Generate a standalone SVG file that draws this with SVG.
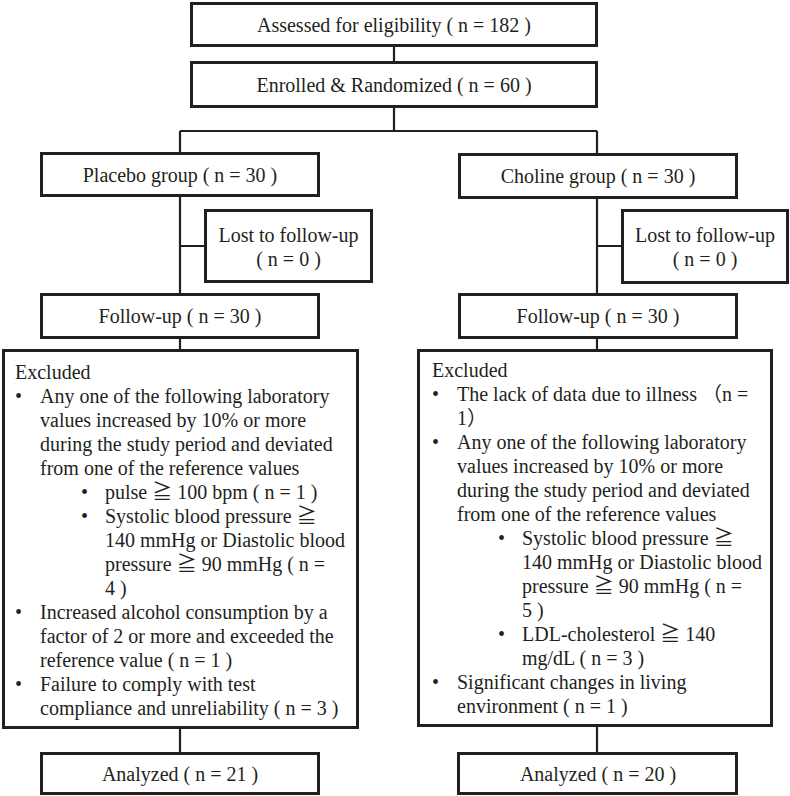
<svg xmlns="http://www.w3.org/2000/svg" width="790" height="796" viewBox="0 0 790 796">
<style>
.box{fill:#fff;stroke:#231f20;stroke-width:3}
.ln{stroke:#231f20;stroke-width:2.2;fill:none}
text{font-family:"Liberation Serif","Noto Sans CJK JP",serif;font-size:20px;fill:#231f20}
.c{text-anchor:middle}
</style>
<rect width="790" height="796" fill="#fff"/>
<g id="connectors">
<path class="ln" d="M394,47V61M394,108V131M180,131H597M180,131V152M597,131V153"/>
<path class="ln" d="M180,197V293M180,246H204M180,339V349M180,729V752"/>
<path class="ln" d="M597,199V293M597,246H621M597,339V349M597,727V752"/>
</g>
<g id="assessed"><rect class="box" x="191.5" y="3.5" width="405" height="42"/><text class="c" x="394" y="32">Assessed for eligibility ( n = 182 )</text></g>
<g id="enrolled"><rect class="box" x="191.5" y="62.5" width="405" height="44"/><text class="c" x="394" y="92">Enrolled &amp; Randomized ( n = 60 )</text></g>
<g id="placebo"><rect class="box" x="41.5" y="153.5" width="277" height="42"/><text class="c" x="180" y="182">Placebo group ( n = 30 )</text></g>
<g id="choline"><rect class="box" x="459.5" y="154.5" width="277" height="43"/><text class="c" x="598" y="183">Choline group ( n = 30 )</text></g>
<g id="lost-left"><rect class="box" x="205.5" y="210.5" width="166" height="71"/><text class="c" x="288.5" y="242">Lost to follow-up</text><text class="c" x="288.5" y="266">( n = 0 )</text></g>
<g id="lost-right"><rect class="box" x="622.5" y="210.5" width="165" height="72"/><text class="c" x="705" y="242">Lost to follow-up</text><text class="c" x="705" y="266">( n = 0 )</text></g>
<g id="followup-left"><rect class="box" x="41.5" y="294.5" width="277" height="43"/><text class="c" x="180" y="323">Follow-up ( n = 30 )</text></g>
<g id="followup-right"><rect class="box" x="459.5" y="294.5" width="277" height="43"/><text class="c" x="598" y="323">Follow-up ( n = 30 )</text></g>
<g id="excluded-left"><rect class="box" x="3.5" y="350.5" width="354" height="377"/>
<text x="15" y="379">Excluded</text>
<text x="15" y="403">•</text><text x="40" y="403">Any one of the following laboratory</text>
<text x="40" y="427">values increased by 10% or more</text>
<text x="40" y="451">during the study period and deviated</text>
<text x="40" y="475">from one of the reference values</text>
<text x="81" y="499">•</text><text x="105" y="499">pulse ≧ 100 bpm ( n = 1 )</text>
<text x="81" y="523">•</text><text x="105" y="523">Systolic blood pressure ≧</text>
<text x="105" y="547">140 mmHg or Diastolic blood</text>
<text x="105" y="571">pressure ≧ 90 mmHg ( n =</text>
<text x="105" y="595">4 )</text>
<text x="15" y="619">•</text><text x="40" y="619">Increased alcohol consumption by a</text>
<text x="40" y="643">factor of 2 or more and exceeded the</text>
<text x="40" y="667">reference value ( n = 1 )</text>
<text x="15" y="691">•</text><text x="40" y="691">Failure to comply with test</text>
<text x="40" y="715">compliance and unreliability ( n = 3 )</text>
</g>
<g id="excluded-right"><rect class="box" x="418.5" y="350.5" width="353" height="375"/>
<text x="432" y="377">Excluded</text>
<text x="432" y="401">•</text><text x="457" y="401">The lack of data due to illness （n =</text>
<text x="457" y="425">1）</text>
<text x="432" y="449">•</text><text x="457" y="449">Any one of the following laboratory</text>
<text x="457" y="473">values increased by 10% or more</text>
<text x="457" y="497">during the study period and deviated</text>
<text x="457" y="521">from one of the reference values</text>
<text x="498" y="545">•</text><text x="522" y="545">Systolic blood pressure ≧</text>
<text x="522" y="569">140 mmHg or Diastolic blood</text>
<text x="522" y="593">pressure ≧ 90 mmHg ( n =</text>
<text x="522" y="617">5 )</text>
<text x="498" y="641">•</text><text x="522" y="641">LDL-cholesterol ≧ 140</text>
<text x="522" y="665">mg/dL ( n = 3 )</text>
<text x="432" y="689">•</text><text x="457" y="689">Significant changes in living</text>
<text x="457" y="713">environment ( n = 1 )</text>
</g>
<g id="analyzed-left"><rect class="box" x="41.5" y="753.5" width="277" height="40"/><text class="c" x="180" y="781">Analyzed ( n = 21 )</text></g>
<g id="analyzed-right"><rect class="box" x="458.5" y="753.5" width="278" height="40"/><text class="c" x="598" y="781">Analyzed ( n = 20 )</text></g>
</svg>
